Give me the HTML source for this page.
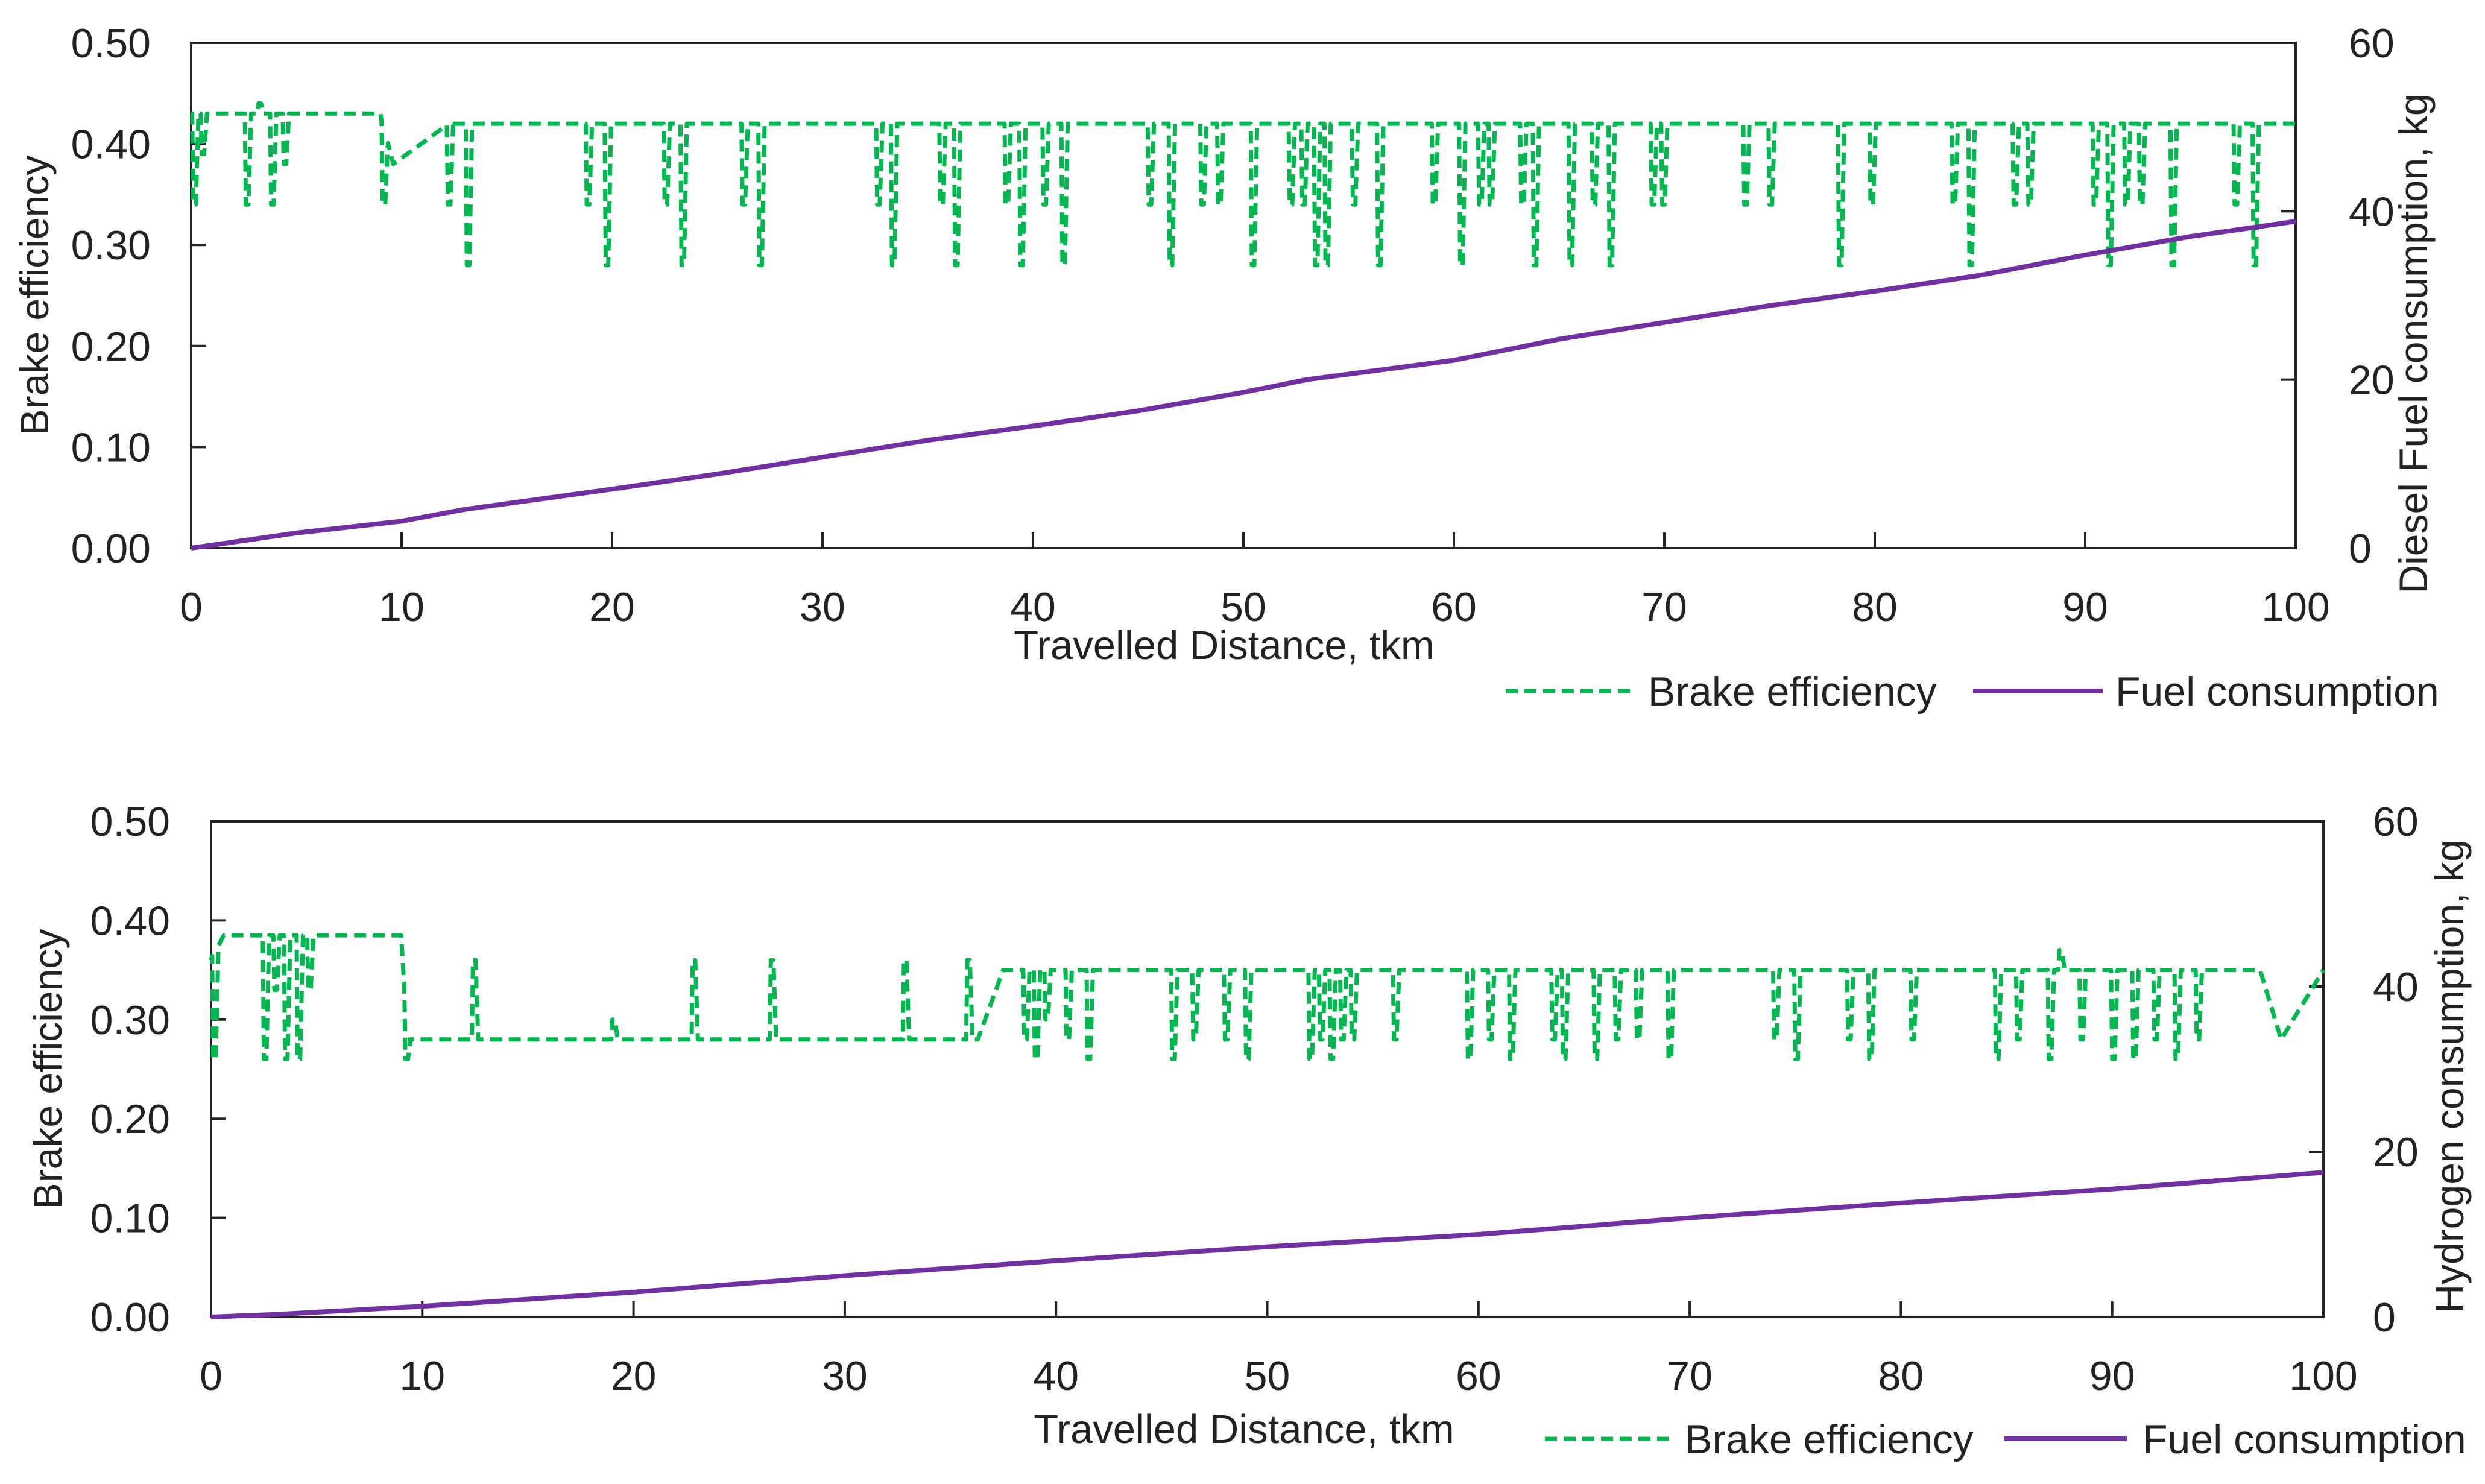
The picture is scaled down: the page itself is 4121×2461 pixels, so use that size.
<!DOCTYPE html>
<html><head><meta charset="utf-8">
<style>
html,body{margin:0;padding:0;background:#fff;}
svg{display:block;font-family:"Liberation Sans",sans-serif;}
</style></head>
<body>
<svg id="chart" width="4121" height="2461" viewBox="0 0 4121 2461" xmlns="http://www.w3.org/2000/svg"></svg>
<script>
// ---- data: top chart (diesel) ----
const xTicks = [0,10,20,30,40,50,60,70,80,90,100];
const leftTicks = [0.00,0.10,0.20,0.30,0.40,0.50];
const rightTicks = [0,20,40,60];
const topLevelX = [0,9,9.6,12.3,100];
const topLevelY = [0.43,0.43,0.38,0.42,0.42];
const topSpikeX = [0.1,0.5,2.6,3.2,3.8,4.4,9.1,12.2,13.1,18.8,19.7,22.5,23.3,26.2,27.0,32.6,33.3,35.6,36.3,38.7,39.4,40.5,41.4,45.5,46.5,48.0,48.8,50.4,52.2,52.8,53.4,53.9,55.2,56.4,59.0,60.3,61.2,61.7,63.2,63.8,65.5,66.6,67.4,69.4,69.9,73.8,75.0,78.3,79.8,83.7,84.5,86.6,87.3,90.4,91.1,91.9,92.6,94.1,97.1,98.0];
const topSpikeY = [0.34,0.39,0.34,0.44,0.34,0.38,0.34,0.34,0.28,0.34,0.28,0.34,0.28,0.34,0.28,0.34,0.28,0.34,0.28,0.34,0.28,0.34,0.28,0.34,0.28,0.34,0.34,0.28,0.34,0.34,0.28,0.28,0.34,0.28,0.34,0.28,0.34,0.34,0.34,0.28,0.28,0.34,0.28,0.34,0.34,0.34,0.34,0.28,0.34,0.34,0.28,0.34,0.34,0.34,0.28,0.34,0.34,0.28,0.34,0.28];
const topFuelX = [0,5,10,13,20,25,30,35,40,45,50,53,60,65,70,75,80,85,90,95,100];
const topFuelY = [0,1.8,3.2,4.6,7.0,8.8,10.8,12.8,14.5,16.3,18.5,20.0,22.3,24.8,26.8,28.8,30.5,32.4,34.8,37.0,38.8];
// ---- data: bottom chart (hydrogen) ----
const botLevelX = [0,0.6,9,9.4,36.3,37.5,97.0,98.0,100];
const botLevelY = [0.36,0.385,0.385,0.28,0.28,0.35,0.35,0.28,0.35];
const botSpikeX = [0.1,2.5,3.0,3.5,4.1,4.6,9.2,12.4,19.0,22.8,26.5,32.8,35.8,38.5,39.0,39.5,40.5,41.5,45.5,46.5,48.0,49.0,52.0,52.5,53.0,53.5,54.0,56.0,59.5,60.5,61.5,63.5,64.0,65.5,66.5,67.5,69.0,74.0,75.0,77.5,78.5,80.5,84.5,85.5,87.0,87.5,88.5,90.0,91.0,92.0,93.0,94.0];
const botSpikeY = [0.26,0.26,0.33,0.26,0.26,0.33,0.26,0.36,0.30,0.36,0.36,0.36,0.36,0.28,0.26,0.30,0.28,0.26,0.26,0.28,0.28,0.26,0.26,0.28,0.26,0.28,0.28,0.28,0.26,0.28,0.26,0.28,0.26,0.26,0.28,0.28,0.26,0.28,0.26,0.28,0.26,0.28,0.26,0.28,0.26,0.37,0.28,0.26,0.26,0.28,0.26,0.28];
const botFuelX = [0,3,10,20,30,40,50,60,70,80,90,100];
const botFuelY = [0,0.3,1.3,3.0,5.0,6.8,8.5,10.0,12.0,13.8,15.5,17.5];

const NS="http://www.w3.org/2000/svg";
const svg=document.getElementById('chart');
function mk(tag,attrs,parent){const e=document.createElementNS(NS,tag);for(const k in attrs)e.setAttribute(k,attrs[k]);(parent||svg).appendChild(e);return e;}
function txt(s,attrs,parent){const e=mk('text',attrs,parent);e.textContent=s;return e;}
function levelAt(lx,ly,x){for(let i=0;i<lx.length-1;i++){if(x>=lx[i]&&x<=lx[i+1]){const t=(x-lx[i])/(lx[i+1]-lx[i]);return ly[i]+t*(ly[i+1]-ly[i]);}}return ly[ly.length-1];}

function drawChart(cfg){
  const g=mk('g',{});
  
  
  const L=cfg.L,R=cfg.R,T=cfg.T,B=cfg.B;
  const sx=v=>L+(R-L)*v/100;
  const sy=v=>B-(B-T)*v/0.5;
  const sy2=v=>B-(B-T)*v/60;
  const fr=mk('rect',{x:L,y:T,width:R-L,height:B-T,fill:'none',stroke:'#222','stroke-width':4},g);
  
  
  xTicks.forEach(v=>{
    const t=mk('line',{x1:sx(v),x2:sx(v),y1:B,y2:B-26,stroke:'#222','stroke-width':4},g);
    
    
    const l=txt(String(v),{x:sx(v),y:cfg.xLabY,'text-anchor':'middle','font-size':68,fill:'#222'},g);
    
    
  });
  leftTicks.forEach(v=>{
    const t=mk('line',{x1:L,x2:L+24,y1:sy(v),y2:sy(v),stroke:'#222','stroke-width':4},g);
    
    
    const l=txt(v.toFixed(2),{x:cfg.yLabX,y:sy(v)+24,'text-anchor':'end','font-size':68,fill:'#222'},g);
    
    
  });
  rightTicks.forEach(v=>{
    const t=mk('line',{x1:R,x2:R-24,y1:sy2(v),y2:sy2(v),stroke:'#222','stroke-width':4},g);
    
    
    const l=txt(String(v),{x:cfg.y2LabX,y:sy2(v)+24,'text-anchor':'start','font-size':68,fill:'#222'},g);
    
    
  });
  const yt=txt('Brake efficiency',{x:0,y:0,'text-anchor':'middle','font-size':66,fill:'#222',transform:`translate(${cfg.yTitleX},${(T+B)/2}) rotate(-90)`},g);
  
  
  const y2t=txt(cfg.y2Title,{x:0,y:0,'text-anchor':'middle','font-size':66,fill:'#222',transform:`translate(${cfg.y2TitleX},${cfg.y2TitleY}) rotate(-90)`},g);
  
  
  const xt=txt('Travelled Distance, tkm',{x:cfg.xTitleX,y:cfg.xTitleY,'text-anchor':'middle','font-size':67,fill:'#222'},g);
  
  
  const pts=[];
  const ev=[];
  cfg.levelX.forEach((x,i)=>ev.push({x:x,type:'lvl',y:cfg.levelY[i]}));
  cfg.spikeX.forEach((x,i)=>ev.push({x:x,type:'sp',y:cfg.spikeY[i]}));
  ev.sort((a,b)=>a.x-b.x);
  ev.forEach(e=>{
    if(e.type==='lvl'){pts.push([e.x,e.y]);}
    else{
      const b=levelAt(cfg.levelX,cfg.levelY,e.x);
      pts.push([e.x-0.05,b]);pts.push([e.x,e.y]);pts.push([e.x+0.12,e.y]);
      const x2=Math.min(e.x+0.25,100);
      pts.push([x2,levelAt(cfg.levelX,cfg.levelY,x2)]);
    }
  });
  const eff=mk('path',{d:'M'+pts.map(p=>sx(p[0]).toFixed(1)+','+sy(p[1]).toFixed(1)).join('L'),fill:'none',stroke:'#00b84f','stroke-width':7,'stroke-dasharray':'20 11','stroke-linejoin':'round'},g);
  
  
  let d='';
  cfg.fuelX.forEach((x,i)=>{d+=(i?'L':'M')+sx(x).toFixed(1)+','+sy2(cfg.fuelY[i]).toFixed(1);});
  const fu=mk('path',{d:d,fill:'none',stroke:'#7030a0','stroke-width':8,'stroke-linejoin':'round'},g);
  
  
  const lg=mk('g',{},g);
  
  
  const l1=mk('line',{x1:cfg.lg[0],x2:cfg.lg[1],y1:cfg.lgY,y2:cfg.lgY,stroke:'#00b84f','stroke-width':7,'stroke-dasharray':'20 11'},lg);
  
  
  const t1=txt('Brake efficiency',{x:cfg.lg[2],y:cfg.lgY+24,'font-size':68,fill:'#222'},lg);
  
  
  const l2=mk('line',{x1:cfg.lg[3],x2:cfg.lg[4],y1:cfg.lgY,y2:cfg.lgY,stroke:'#7030a0','stroke-width':8},lg);
  
  
  const t2=txt('Fuel consumption',{x:cfg.lg[5],y:cfg.lgY+24,'font-size':68,fill:'#222'},lg);
  
  
}

drawChart({name:'diesel-chart',L:317,R:3807,T:71,B:909,xLabY:1030,yLabX:250,y2LabX:3895,
  yTitleX:80,y2Title:'Diesel Fuel consumption, kg',y2TitleX:4025,y2TitleY:570,xTitleX:2030,xTitleY:1093,
  levelX:topLevelX,levelY:topLevelY,spikeX:topSpikeX,spikeY:topSpikeY,fuelX:topFuelX,fuelY:topFuelY,
  lgY:1146,lg:[2497,2707,2733,3272,3487,3508]});
drawChart({name:'hydrogen-chart',L:350,R:3853,T:1362,B:2184,xLabY:2305,yLabX:282,y2LabX:3935,
  yTitleX:102,y2Title:'Hydrogen consumption, kg',y2TitleX:4085,y2TitleY:1785,xTitleX:2063,xTitleY:2393,
  levelX:botLevelX,levelY:botLevelY,spikeX:botSpikeX,spikeY:botSpikeY,fuelX:botFuelX,fuelY:botFuelY,
  lgY:2386,lg:[2562,2773,2794,3324,3527,3553]});
</script>
</body></html>
